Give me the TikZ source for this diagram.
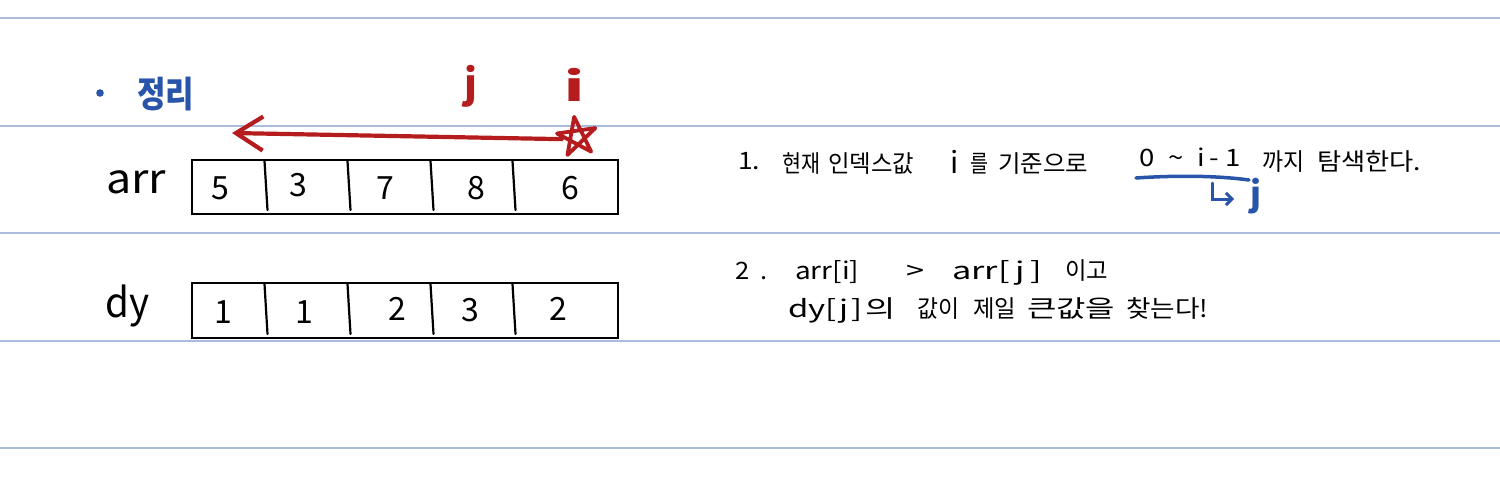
\documentclass[tikz,border=0pt]{standalone}
\usepackage{fontspec}
\setmainfont{Noto Sans CJK KR}
\usetikzlibrary{arrows.meta,shapes.geometric}
\definecolor{ruleblue}{RGB}{170,188,218}
\definecolor{inkblue}{RGB}{40,84,170}
\definecolor{inkred}{RGB}{180,28,30}
\newcommand{\fitw}[2]{\resizebox{#1}{\height}{#2}}
\tikzset{
  rule/.style={draw=ruleblue,line width=1.2pt},
  boxframe/.style={draw=black,line width=2.4pt,minimum width=426pt,inner sep=0pt},
  divider/.style={draw=black,line width=2.2pt,line cap=round},
  cellnum/.style={font=\fontsize{32}{34}\selectfont,inner sep=0pt},
  rowlabel/.style={font=\fontsize{41}{44}\selectfont,inner sep=0pt,anchor=base west},
  note/.style={font=\fontsize{24}{28}\selectfont,inner sep=0pt,anchor=base west},
  redlabel/.style={font=\bfseries\fontsize{40}{42}\selectfont,text=inkred,inner sep=0pt,anchor=base},
}
\begin{document}
\begin{tikzpicture}[x=1pt,y=-1pt]
\useasboundingbox (0,0) rectangle (1500,480);
\fill[white] (0,0) rectangle (1500,480);
% ruled lines
\foreach \yy in {18,126,233,341,448} \draw[rule] (0,\yy) -- (1500,\yy);
% title
\fill[inkblue] (100,93) circle (3.8pt);
\node[font=\bfseries\fontsize{36}{38}\selectfont,text=inkblue,inner sep=0pt,anchor=base west] (title) at (137,107) {\fitw{57pt}{정리}};
% red labels
\node[redlabel] (jlab) at (471,98) {j};
\node[redlabel] (ilab) at (574,101) {\fitw{20pt}{i}};
\node[star,star points=5,minimum size=40pt,inner sep=0pt,rotate=8] (star) at (577,137) {};
\draw[inkred,line width=3.8pt,line join=round,line cap=round] (star.outer point 1) -- (star.outer point 3) -- (star.outer point 5) -- (star.outer point 2) -- (star.outer point 4) -- cycle;
\coordinate (arrEnd) at (232,133);
\draw[inkred,line width=4.2pt,line cap=round,-{Straight Barb[length=27pt,width=34pt,line width=4.2pt]}] (star.west) -- (arrEnd);
% arr row
\node[rowlabel] (arrlab) at (106,193) {\fitw{60pt}{arr}};
\node[boxframe,minimum height=54pt] (arrbox) at (405,187) {};
\foreach \xx in {266,349,432,514} \draw[divider] ({\xx-1.5},161) -- ({\xx+1.5},210);
\node[cellnum] (a1) at (220,188) {5};
\node[cellnum] (a2) at (298,185) {3};
\node[cellnum] (a3) at (385,188) {7};
\node[cellnum] (a4) at (476,188) {8};
\node[cellnum] (a5) at (570,188) {6};
% dy row
\node[rowlabel] (dylab) at (105,317) {\fitw{44pt}{dy}};
\node[boxframe,minimum height=55pt] (dybox) at (405,310.5) {};
\foreach \xx in {266,349,432,514} \draw[divider] ({\xx-1.5},284) -- ({\xx+1.5},334);
\node[cellnum] (d1) at (223,312) {1};
\node[cellnum] (d2) at (304,312) {1};
\node[cellnum] (d3) at (397,309) {2};
\node[cellnum] (d4) at (470,310) {3};
\node[cellnum] (d5) at (558,309) {2};
% note 1
\node[note] (n1a) at (738,169) {\fitw{22pt}{1.}};
\node[note] (n1b) at (782,172) {\fitw{38pt}{현재}};
\node[note] (n1c) at (828,172) {\fitw{86pt}{인덱스값}};
\node[note] (n1d) at (950,173) {\fontsize{30}{30}\selectfont i};
\node[note] (n1e) at (970,172) {\fitw{18pt}{를}};
\node[note] (n1f) at (998,172) {\fitw{90pt}{기준으로}};
\node[note] (n1g) at (1139,166) {\fitw{102pt}{0\hspace{12pt}\textasciitilde\hspace{12pt}i\hspace{4pt}-\hspace{6pt}1}};
\node[note] (n1h) at (1262,170) {\fitw{42pt}{까지}};
\node[note] (n1i) at (1317,170) {\fitw{104pt}{탐색한다.}};
\coordinate (ulA) at (1136,178);
\coordinate (ulB) at (1249,180);
\draw[inkblue,line width=3.5pt,line cap=round] (ulA) .. controls (1180,175) and (1220,176) .. (ulB);
\coordinate (hookA) at (1212,183);
\coordinate (hookB) at (1234,199);
\node[font=\bfseries\fontsize{34}{36}\selectfont,text=inkblue,inner sep=0pt,anchor=base] (jblue) at (1256,206) {j};
\draw[inkblue,line width=3pt,line cap=round,-{Straight Barb[length=6pt,width=12pt]}] (hookA) |- (hookB);
% note 2
\node[note] (n2a) at (735,279) {\fitw{32pt}{2\hspace{10pt}.}};
\node[note] (n2b) at (795,279) {\fitw{64pt}{arr[i]}};
\node[note] (n2c) at (906,279) {\fitw{18pt}{>}};
\node[note] (n2d) at (952,279) {\fitw{90pt}{arr[\hspace{4pt}j\hspace{4pt}]}};
\node[note] (n2e) at (1065,279) {\fitw{43pt}{이고}};
\node[note] (n2f) at (788,317) {\fitw{107pt}{dy[\hspace{2pt}j\hspace{2pt}]\hspace{2pt}의}};
\node[note] (n2g) at (917,317) {\fitw{42pt}{값이}};
\node[note] (n2h) at (973,317) {\fitw{43pt}{제일}};
\node[note] (n2i) at (1027,317) {\fitw{88pt}{큰값을}};
\node[note] (n2j) at (1126,317) {\fitw{82pt}{찾는다!}};
\end{tikzpicture}
\end{document}
